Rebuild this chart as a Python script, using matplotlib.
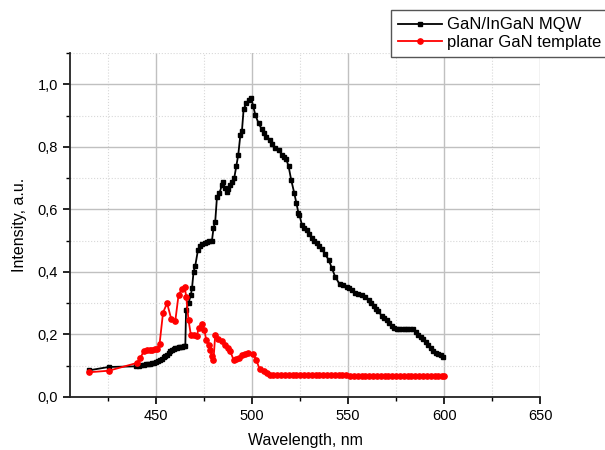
import matplotlib
matplotlib.use('Agg')
import matplotlib.pyplot as plt
from matplotlib.ticker import MultipleLocator, FuncFormatter

plt.rcParams['font.family'] = ['Liberation Sans', 'DejaVu Sans']

# GaN/InGaN MQW (чёрная кривая)
mqw_x = [414.7, 425.2, 439.6, 441.0, 442.2, 443.4, 444.6, 445.8, 446.9, 448.0, 449.0, 450.0,
         451.0, 452.0, 453.0, 454.0, 454.7, 455.6, 456.5, 457.3, 458.2, 459.1, 459.9, 460.8,
         461.7, 462.5, 463.4, 464.3, 465.1, 465.5, 466.8, 468.0, 468.6, 469.4, 470.3, 471.7,
         472.9, 474.0, 475.2, 476.4, 477.6, 479.0, 479.8, 480.7, 481.6, 482.9, 484.2, 484.7,
         485.6, 486.8, 487.6, 488.5, 489.4, 490.6, 491.7, 492.7, 493.8, 494.6, 495.5, 496.9,
         498.1, 499.5, 500.5, 501.6, 503.3, 505.0, 506.2, 507.3, 509.4, 510.5, 511.6, 513.7,
         515.5, 516.6, 517.7, 518.9, 520.3, 521.9, 523.0, 524.1, 524.6, 525.9, 527.2, 528.5,
         529.8, 531.1, 532.4, 533.7, 535.0, 536.3, 538.0, 539.8, 541.5, 543.2, 545.5, 547.4,
         549.3, 550.6, 551.9, 553.6, 555.3, 557.1, 558.8, 560.6, 561.9, 563.2, 564.5, 565.8,
         567.6, 568.9, 570.2, 571.5, 572.8, 574.1, 575.4, 576.7, 578.0, 579.4, 580.7, 582.3,
         584.0, 585.3, 586.6, 587.9, 589.2, 590.5, 591.8, 593.1, 594.4, 595.7, 597.0, 598.3,
         599.6]
mqw_y = [0.085, 0.096, 0.098, 0.100, 0.101, 0.103, 0.104, 0.105, 0.106, 0.108, 0.109, 0.111,
         0.114, 0.119, 0.123, 0.127, 0.130, 0.135, 0.140, 0.146, 0.150, 0.153, 0.156, 0.158,
         0.159, 0.160, 0.161, 0.162, 0.162, 0.279, 0.300, 0.327, 0.348, 0.400, 0.420, 0.470,
         0.483, 0.488, 0.492, 0.495, 0.498, 0.500, 0.540, 0.561, 0.639, 0.652, 0.678, 0.688,
         0.668, 0.657, 0.665, 0.678, 0.688, 0.700, 0.739, 0.774, 0.838, 0.849, 0.920, 0.939,
         0.950, 0.955, 0.930, 0.902, 0.875, 0.856, 0.845, 0.833, 0.822, 0.808, 0.795, 0.790,
         0.774, 0.767, 0.760, 0.739, 0.694, 0.652, 0.620, 0.588, 0.582, 0.550, 0.542, 0.534,
         0.521, 0.508, 0.500, 0.492, 0.482, 0.473, 0.456, 0.439, 0.412, 0.385, 0.361, 0.357,
         0.353, 0.348, 0.343, 0.332, 0.330, 0.327, 0.319, 0.311, 0.300, 0.290, 0.282, 0.274,
         0.258, 0.252, 0.247, 0.237, 0.228, 0.222, 0.217, 0.217, 0.217, 0.217, 0.217, 0.217,
         0.217, 0.208, 0.199, 0.192, 0.185, 0.176, 0.167, 0.156, 0.146, 0.142, 0.138, 0.133,
         0.128]

# planar GaN template (красная кривая)
gan_x = [414.7, 425.2, 440.0, 441.7, 443.4, 445.0, 446.5, 448.0, 449.5, 450.3, 451.7, 453.5,
         455.6, 457.8, 459.9, 461.6, 463.4, 464.8, 465.6, 466.8, 468.0, 469.5, 471.2, 472.0,
         473.8, 475.0, 476.0, 477.3, 478.1, 479.0, 479.8, 480.7, 482.4, 484.2, 485.9, 487.2,
         488.5, 490.3, 491.5, 492.9, 494.6, 496.3, 498.0, 500.4, 502.1, 503.8, 505.9, 507.5,
         509.4, 511.0, 513.0, 515.0, 517.0, 519.0, 521.0, 523.0, 525.0, 527.0, 529.0, 531.0,
         533.0, 535.0, 537.0, 539.0, 541.0, 543.0, 545.0, 547.0, 549.0, 551.0, 553.0, 555.0,
         557.0, 559.0, 561.0, 563.0, 565.0, 567.0, 569.0, 571.0, 573.0, 575.0, 577.0, 579.0,
         581.0, 583.0, 585.0, 587.0, 589.0, 591.0, 593.0, 595.0, 597.0, 599.0, 600.0]
gan_y = [0.079, 0.084, 0.109, 0.125, 0.146, 0.149, 0.150, 0.151, 0.152, 0.153, 0.170, 0.270,
         0.300, 0.249, 0.244, 0.327, 0.345, 0.351, 0.320, 0.245, 0.199, 0.197, 0.196, 0.220,
         0.234, 0.215, 0.183, 0.167, 0.151, 0.132, 0.119, 0.199, 0.185, 0.180, 0.167, 0.157,
         0.146, 0.119, 0.120, 0.125, 0.135, 0.138, 0.140, 0.138, 0.119, 0.089, 0.082, 0.076,
         0.071, 0.070, 0.070, 0.070, 0.070, 0.070, 0.070, 0.070, 0.070, 0.070, 0.069, 0.069,
         0.069, 0.069, 0.069, 0.069, 0.069, 0.069, 0.069, 0.069, 0.069, 0.068, 0.068, 0.068,
         0.068, 0.068, 0.068, 0.068, 0.068, 0.068, 0.068, 0.068, 0.068, 0.068, 0.067, 0.067,
         0.067, 0.067, 0.067, 0.067, 0.067, 0.067, 0.067, 0.067, 0.067, 0.067, 0.067]

fig = plt.figure(figsize=(6.05, 4.5), dpi=100)
ax = fig.add_axes([0.1157, 0.1178, 0.7769, 0.7644])

ax.plot(mqw_x, mqw_y, color='black', lw=1.3, marker='s', markersize=3.5,
        label='GaN/InGaN MQW')
ax.plot(gan_x, gan_y, color='red', lw=1.3, marker='o', markersize=3.8,
        label='planar GaN template')

ax.set_xlim(405, 650)
ax.set_ylim(0, 1.1)
ax.xaxis.set_major_locator(MultipleLocator(50))
ax.xaxis.set_minor_locator(MultipleLocator(25))
ax.yaxis.set_major_locator(MultipleLocator(0.2))
ax.yaxis.set_minor_locator(MultipleLocator(0.1))
ax.yaxis.set_major_formatter(FuncFormatter(lambda v, p: f'{v:.1f}'.replace('.', ',')))

ax.grid(True, which='major', color='#c0c0c0', lw=1.0, ls='-')
ax.grid(True, which='minor', color='#d8d8d8', lw=0.8, ls=':')
ax.set_axisbelow(True)

for s in ['top', 'right']:
    ax.spines[s].set_visible(False)
for s in ['left', 'bottom']:
    ax.spines[s].set_linewidth(1.3)
    ax.spines[s].set_color('#222222')

ax.tick_params(which='major', direction='out', length=5, width=1.2, labelsize=10.5)
ax.tick_params(which='minor', direction='out', length=3, width=1.0)

ax.set_xlabel('Wavelength, nm', fontsize=11.5, labelpad=7)
ax.set_ylabel('Intensity, a.u.', fontsize=11.5, labelpad=8)

fig.legend(loc='upper left', bbox_to_anchor=(0.646, 0.978), fontsize=12,
           frameon=True, fancybox=False, edgecolor='#555555', framealpha=1,
           borderaxespad=0, handlelength=2.6, borderpad=0.45, labelspacing=0.15,
           handletextpad=0.3, handleheight=0.6)

fig.savefig('out.png', dpi=100)
